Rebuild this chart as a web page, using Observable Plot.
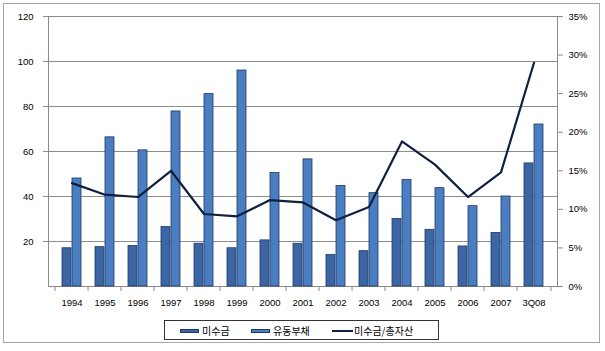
<!DOCTYPE html>
<html><head><meta charset="utf-8">
<script src="https://cdn.jsdelivr.net/npm/d3@7"></script>
<script src="https://cdn.jsdelivr.net/npm/@observablehq/plot@0.6"></script>
<style>
body{margin:0;background:#fff;}
#wrap{position:relative;width:605px;height:351px;overflow:hidden;}
#border{position:absolute;left:3px;top:3px;width:597px;height:340px;border:1px solid #a6a6a6;box-sizing:border-box;}
#chart{position:absolute;left:0;top:0;}
#legend{position:absolute;left:164px;top:320px;width:275px;height:20px;border:1px solid #333;box-sizing:border-box;display:flex;align-items:center;font-family:"Noto Sans CJK KR",sans-serif;font-size:10px;color:#000;background:#fff;}
.item{display:flex;align-items:center;position:absolute;top:2px;height:15px;}
.sw{display:inline-block;width:19px;height:4px;margin-right:3px;box-sizing:border-box;}
.ln{display:inline-block;width:21px;height:2px;background:#0f2040;margin-right:1px;}
</style></head>
<body>
<div id="wrap"><div id="border"></div><div id="chart"></div>
<div id="legend">
<div class="item" style="left:15px"><span class="sw" style="background:#3d65a3;border:1px solid #1d3a66"></span>미수금</div>
<div class="item" style="left:86px"><span class="sw" style="background:#4a7ec0;border:1px solid #1d3a66"></span>유동부채</div>
<div class="item" style="left:167px"><span class="ln"></span>미수금/총자산</div>
</div>
</div>
<script>
const years = ["1994","1995","1996","1997","1998","1999","2000","2001","2002","2003","2004","2005","2006","2007","3Q08"];
const receivables = [17,17.5,18,26.5,19,17,20.5,19,14,15.7,30,25.2,17.8,23.8,54.7];
const currentLiab = [48,66.3,60.5,77.8,85.5,96,50.5,56.5,44.7,41.5,47.3,43.7,35.7,40,72];
const ratioPct = [13.4,11.9,11.6,15.0,9.4,9.1,11.2,10.9,8.6,10.3,18.8,15.8,11.6,14.8,29.0];
const leftTicks = [20,40,60,80,100,120];
const rightTicks = [0,5,10,15,20,25,30,35];

const W = 605, ML = 48, MR = 48;
const bw = (W - ML - MR) / years.length;
const data = years.map((y,i)=>({year:y, recv:receivables[i], liab:currentLiab[i], ratio:ratioPct[i]*120/35}));
const font = "Liberation Sans, Arial, sans-serif";

const chart = Plot.plot({
  width: W, height: 316,
  marginLeft: ML, marginRight: MR, marginTop: 16, marginBottom: 30,
  style: {fontFamily: font, fontSize: "9.5px", color: "#000", background: "transparent"},
  x: {type: "band", domain: years, padding: 0, axis: null},
  y: {domain: [0,120], axis: null},
  marks: [
    Plot.gridY(leftTicks, {stroke: "#8c8c8c", strokeOpacity: 1}),
    Plot.frame({stroke: "#8c8c8c"}),
    Plot.ruleX(years, {x: d=>d, y1: 0, y2: 0, dx: -bw/2, insetBottom: -5, stroke: "#8c8c8c"}),
    Plot.ruleX([years[years.length-1]], {x: d=>d, y1: 0, y2: 0, dx: bw/2, insetBottom: -5, stroke: "#8c8c8c"}),
    Plot.axisY({anchor: "left", ticks: leftTicks, tickSize: 5, tickPadding: 10, stroke: "#8c8c8c", label: null}),
    Plot.axisY({anchor: "right", ticks: rightTicks.map(p=>p*120/35), tickFormat: d=>Math.round(d*35/120)+"%", tickSize: 5, tickPadding: 6, stroke: "#8c8c8c", label: null}),
    Plot.axisX({anchor: "bottom", tickSize: 0, tickPadding: 13, label: null}),
    Plot.barY(data, {x: "year", y: "recv", fill: "#3d65a3", stroke: "#1d3a66", strokeWidth: 0.8, insetLeft: 7, insetRight: 17}),
    Plot.barY(data, {x: "year", y: "liab", fill: "#4a7ec0", stroke: "#1d3a66", strokeWidth: 0.8, insetLeft: 17, insetRight: 7}),
    Plot.line(data, {x: "year", y: "ratio", stroke: "#0f2040", strokeWidth: 2.2})
  ]
});
document.getElementById("chart").appendChild(chart);
</script>
</body></html>
